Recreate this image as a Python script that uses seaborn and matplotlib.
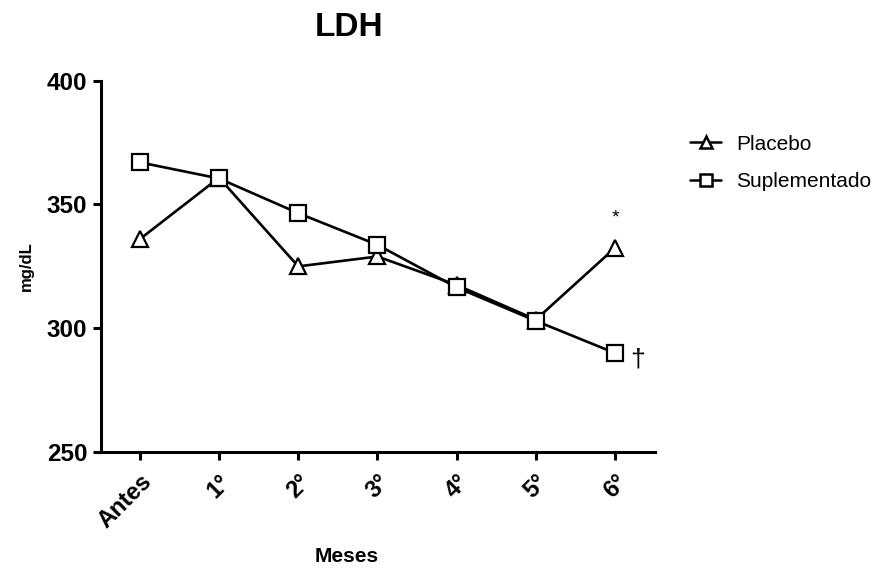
import matplotlib
matplotlib.use("Agg")
import matplotlib.pyplot as plt
import seaborn as sns
import pandas as pd

meses = ["Antes", "1°", "2°", "3°", "4°", "5°", "6°"]
placebo = [336, 360.8, 325, 329, 317.5, 303.5, 332.5]
suplementado = [367, 360.5, 346.5, 333.7, 316.5, 303, 290]
grupos = ["Placebo", "Suplementado"]

sns.set_theme(style="ticks")
plt.rcParams["font.family"] = ["Liberation Sans", "DejaVu Sans"]
for key in ["text.color", "axes.labelcolor", "xtick.color", "ytick.color", "axes.edgecolor"]:
    plt.rcParams[key] = "black"

df = pd.DataFrame({
    "mes": list(range(len(meses))) * 2,
    "valor": placebo + suplementado,
    "grupo": [grupos[0]] * len(meses) + [grupos[1]] * len(meses),
})

fig = plt.figure(figsize=(8.83, 5.68), dpi=100)
ax = fig.add_axes([0.1144, 0.204, 0.627, 0.654])

sns.lineplot(
    data=df, x="mes", y="valor", hue="grupo", style="grupo",
    palette={grupos[0]: "black", grupos[1]: "black"},
    markers={grupos[0]: "^", grupos[1]: "s"},
    dashes=False, linewidth=1.9, markersize=11,
    markerfacecolor="white", markeredgecolor="black", markeredgewidth=1.6,
    ax=ax,
)

ax.set_xlim(-0.49, 6.5)
ax.set_ylim(250, 400)
ax.set_yticks([250, 300, 350, 400])
ax.set_xticks(range(len(meses)))
ax.set_xticklabels(meses, rotation=45, ha="right", rotation_mode="anchor",
                   fontsize=17, fontweight="bold")
for lbl in ax.get_yticklabels():
    lbl.set_fontsize(17.5)
    lbl.set_fontweight("bold")

for side in ["top", "right"]:
    ax.spines[side].set_visible(False)
for side in ["left", "bottom"]:
    ax.spines[side].set_linewidth(2.2)
ax.tick_params(axis="both", direction="out", length=6, width=2.2, color="black", pad=4)
ax.tick_params(axis="x", pad=7)

ax.set_xlabel("Meses", fontsize=15, fontweight="bold")
ax.xaxis.set_label_coords(0.444, -0.256)
ax.set_ylabel("mg/dL", fontsize=12, fontweight="bold")
ax.yaxis.set_label_coords(-0.122, 0.5)
ax.set_title("LDH", fontsize=24, fontweight="bold", pad=32, x=0.448)

# significance marks at the last month
ax.text(6, placebo[6] + 12, "*", ha="center", va="center", fontsize=14)
ax.text(6.28, suplementado[6] - 2.5, "†", ha="center", va="center", fontsize=19)

handles, labels = ax.get_legend_handles_labels()
leg = ax.legend(handles, labels, loc="upper left", bbox_to_anchor=(1.03, 0.905),
                frameon=False, fontsize=15, handlelength=1.5, labelspacing=0.9,
                handletextpad=0.7)
for h in leg.legend_handles:
    h.set_markersize(8)
    h.set_linewidth(1.8)
    h.set_markerfacecolor("white")
    h.set_markeredgecolor("black")
    h.set_markeredgewidth(1.8)

fig.savefig("out.png", dpi=100)
